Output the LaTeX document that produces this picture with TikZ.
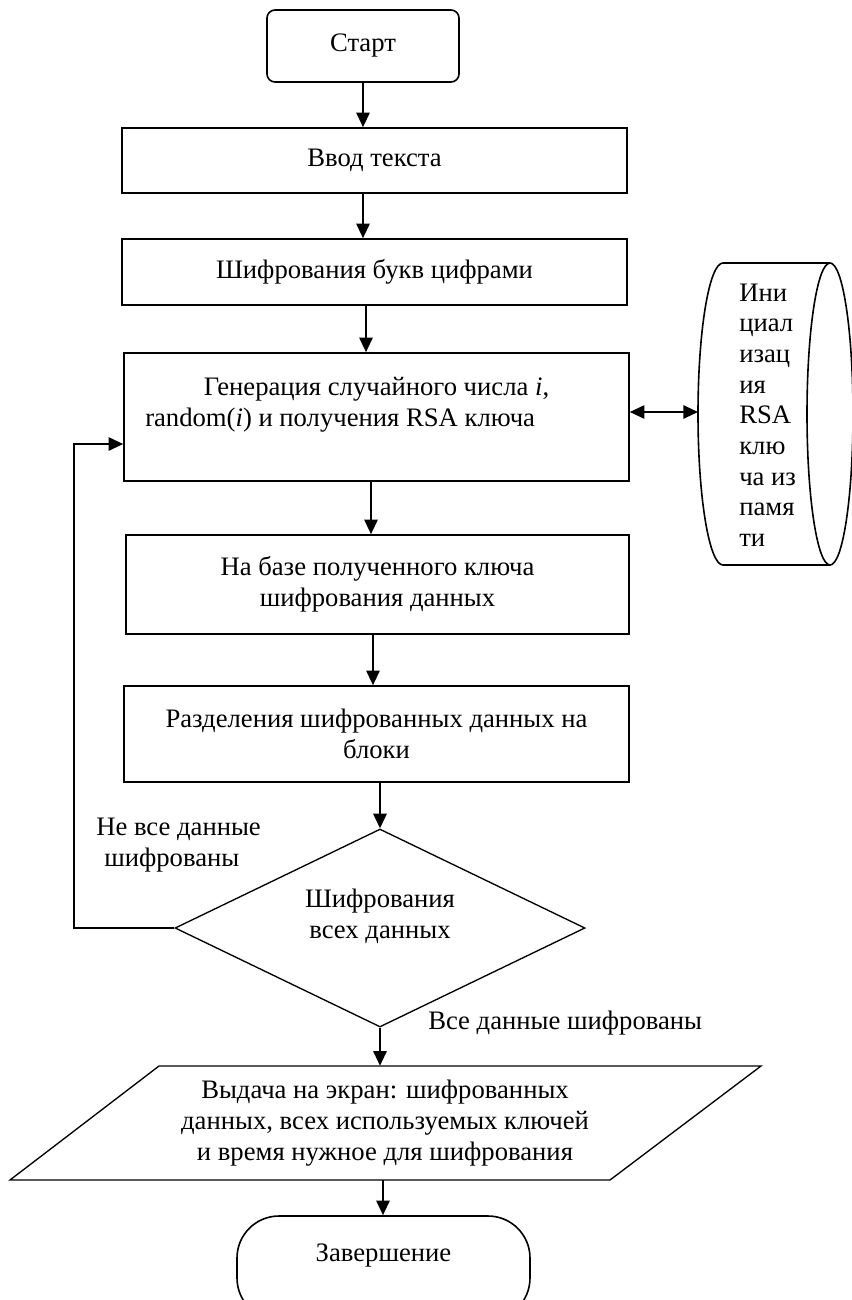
\documentclass[tikz,border=0pt]{standalone}
\usepackage{fontspec}
\setmainfont{Liberation Serif}
\usetikzlibrary{arrows.meta,shapes.geometric,calc}
\begin{document}
\begin{tikzpicture}[x=0.75pt,y=-0.75pt,
  font=\fontsize{20}{23}\selectfont,
  box/.style={draw, line width=1.2pt, inner sep=0pt, align=center},
  thin/.style={line width=1pt},
  arr/.style={line width=1.5pt, -{Triangle[length=11pt,width=10pt]}},
  dbl/.style={line width=1.5pt, {Triangle[length=11pt,width=10pt]}-{Triangle[length=11pt,width=10pt]}},
  txt/.style={inner sep=0pt, align=center}]
\useasboundingbox (0,0) rectangle (852,1300);
\fill[white] (0,0) rectangle (852,1300);
\clip (0,0) rectangle (852,1300);

% nodes
\node[box, rounded corners=6pt, minimum width=144pt, minimum height=54pt] (start) at (363,46) {Старт};
\node[box, minimum width=378.75pt, minimum height=48.75pt] (b1) at (374.5,160.5) {Ввод текста};
\node[box, minimum width=378.75pt, minimum height=49.5pt] (b2) at (374.5,272) {Шифрования букв цифрами};
\node[box, minimum width=378.75pt, minimum height=96pt] (gen) at (376.5,417) {};
\node[txt, anchor=west, align=left] (gentext) at (145,405) {\hspace*{44pt}Генерация случайного числа \textit{i},\\random(\textit{i}) и получения RSA ключа};
\node[box, minimum width=377.25pt, minimum height=74.25pt] (base) at (377.5,584.5) {На базе полученного ключа\\шифрования данных};
\node[box, minimum width=378.75pt, minimum height=72pt] (split) at (376.5,734) {Разделения шифрованных данных на\\блоки};
\node[draw, thin, diamond, inner sep=0pt, minimum width=307.5pt, minimum height=148.5pt] (dec) at (380,928) {};
\node[txt] (dectext) at (380,916) {Шифрования\\всех данных};

% storage (cylinder)
\draw[line width=1.2pt] (830,263) -- (723,263) arc[start angle=270, end angle=90, x radius=25, y radius=151] -- (830,565);
\draw[line width=1.2pt] (830,414) ellipse[x radius=23, y radius=151];
\coordinate (cylL) at (698,412);
\node[txt, anchor=west, align=left] (cyltext) at (739,415) {Ини\\циал\\изац\\ия\\RSA\\клю\\ча из\\памя\\ти};

% output parallelogram
\draw[thin] (159,1066) -- (761,1066) -- (610,1180) -- (10,1180) -- cycle;
\node[txt, minimum height=85.5pt] (outp) at (385,1123) {Выдача на экран: шифрованных\\данных, всех используемых ключей\\и время нужное для шифрования};

% terminator
\node[draw, line width=1.2pt, rounded corners=31.5pt, minimum width=219.75pt, minimum height=78pt, inner sep=0pt] (fin) at (383.5,1268) {};
\node[txt] (fintext) at (383.5,1255) {Завершение};

% labels
\node[txt, anchor=west, align=left] (lno) at (96,845) {Не все данные\\\hspace*{6pt}шифрованы};
\node[txt, anchor=west] (lyes) at (428,1023) {Все данные шифрованы};

% connectors
\coordinate (x1) at (363,0);
\coordinate (x3) at (366,0);
\coordinate (x4) at (371,0);
\coordinate (x5) at (373,0);
\coordinate (x8) at (383,0);
\coordinate (lp) at (74,444);
\draw[arr] (start.south) -- (start.south |- b1.north);
\draw[arr] (x1 |- b1.south) -- (x1 |- b2.north);
\draw[arr] (x3 |- b2.south) -- (x3 |- gen.north);
\draw[arr] (x4 |- gen.south) -- (x4 |- base.north);
\draw[arr] (x5 |- base.south) -- (x5 |- split.north);
\draw[arr] (dec.north |- split.south) -- (dec.north);
\draw[arr] (dec.south) -- (dec.south |- outp.north);
\draw[arr] (x8 |- outp.south) -- (x8 |- fin.north);
\draw[dbl] (gen.east |- cylL) -- (cylL);
\draw[arr] (dec.west) -| (lp) -- (lp -| gen.west);
\end{tikzpicture}
\end{document}
